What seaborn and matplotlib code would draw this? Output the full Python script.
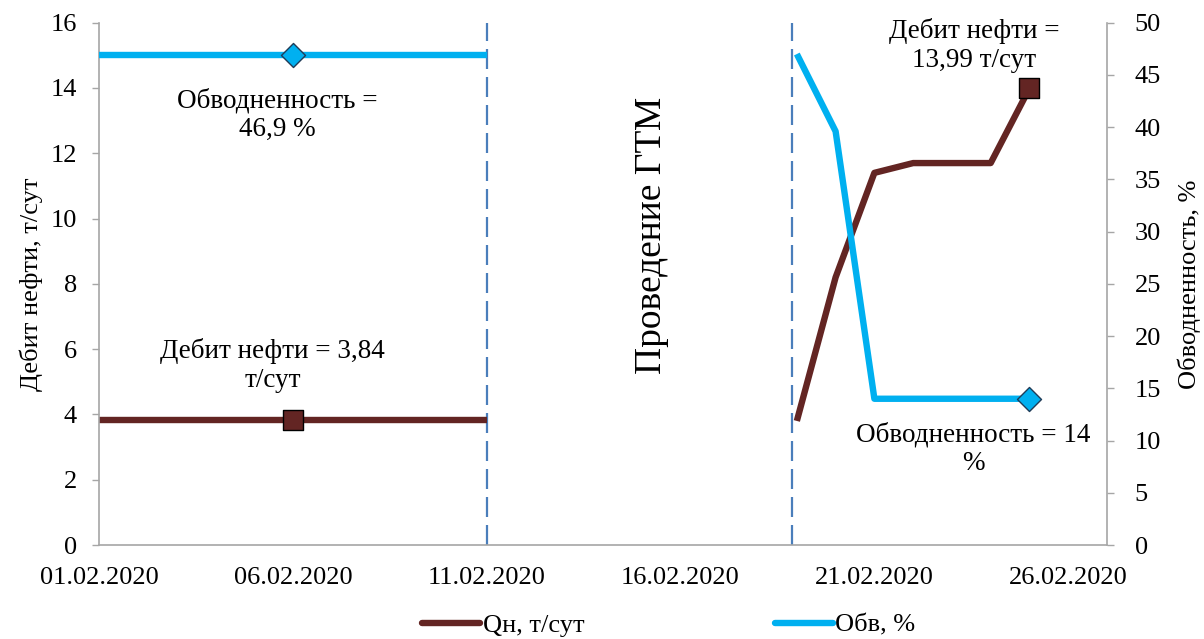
import numpy as np
import pandas as pd
import matplotlib
matplotlib.use("Agg")
import matplotlib.pyplot as plt
import matplotlib.dates as mdates
from matplotlib.lines import Line2D
import seaborn as sns

# Well data before and after the workover (ГТМ)
dates_before = ["01.02.2020", "06.02.2020", "11.02.2020"]
oil_before = [3.84, 3.84, 3.84]
wc_before = [46.9, 46.9, 46.9]

dates_after = ["19.02.2020", "20.02.2020", "21.02.2020", "22.02.2020",
               "23.02.2020", "24.02.2020", "25.02.2020"]
oil_after = [3.8, 8.2, 11.4, 11.7, 11.7, 11.7, 13.99]
wc_after = [47.0, 39.6, 14.0, 14.0, 14.0, 14.0, 14.0]

tick_dates = ["01.02.2020", "06.02.2020", "11.02.2020",
              "16.02.2020", "21.02.2020", "26.02.2020"]
x_start, x_end = "01.02.2020", "27.02.2020"
gtm_lines = ["11.02.2020", "19.02.2020"]

series_labels = ["Qн, т/сут", "Обв, %"]
oil_color = "#632523"
wc_color = "#00B0F0"
dash_color = "#4A7EBB"
spine_color = "#A6A6A6"

def to_dt(s):
    return pd.to_datetime(s, format="%d.%m.%Y")

df = pd.DataFrame({
    "date": to_dt(dates_before + dates_after),
    "oil": oil_before + oil_after,
    "wc": wc_before + wc_after,
    "segment": ["before"] * len(dates_before) + ["after"] * len(dates_after),
})

sns.set_theme(style="white")
plt.rcParams["font.family"] = ["Liberation Serif", "DejaVu Serif"]
plt.rcParams["font.size"] = 19
plt.rcParams["text.color"] = "black"
plt.rcParams["axes.labelcolor"] = "black"

fig = plt.figure(figsize=(12.04, 6.39), dpi=100)
ax = fig.add_axes([99 / 1204, 1 - 545 / 639, (1107 - 99) / 1204, (545 - 22.7) / 639])
ax2 = ax.twinx()

line_kw = dict(linewidth=4.6, solid_capstyle="butt", solid_joinstyle="round")

sns.lineplot(data=df, x="date", y="oil", units="segment", estimator=None,
             color=oil_color, ax=ax, legend=False, **line_kw)
sns.lineplot(data=df, x="date", y="wc", units="segment", estimator=None,
             color=wc_color, ax=ax2, legend=False, **line_kw)

# Marker points: middle of the base period and last day after the workover
mk = df.iloc[[1, len(df) - 1]]
sns.scatterplot(x=mk["date"], y=mk["oil"], marker="s", s=200, color=oil_color,
                edgecolor="black", linewidth=1.0, ax=ax, zorder=5, legend=False)
sns.scatterplot(x=mk["date"], y=mk["wc"], marker="D", s=150, color=wc_color,
                edgecolor="#1F3B57", linewidth=1.0, ax=ax2, zorder=5, legend=False)

ax.set_ylim(0, 16)
ax.set_yticks(np.arange(0, 17, 2))
ax2.set_ylim(0, 50)
ax2.set_yticks(np.arange(0, 51, 5))
ax.set_xlim(to_dt(x_start), to_dt(x_end))
ax.set_xticks(to_dt(tick_dates))
ax.xaxis.set_major_formatter(mdates.DateFormatter("%d.%m.%Y"))

for a in (ax, ax2):
    a.set_xlabel("")
    a.spines["top"].set_visible(False)
    for side in ("left", "right", "bottom"):
        a.spines[side].set_color(spine_color)
        a.spines[side].set_linewidth(1.2)
    a.tick_params(axis="both", which="major", direction="out", length=5,
                  width=1.0, color=spine_color, labelsize=19, labelcolor="black", pad=11)
    a.grid(False)
ax2.tick_params(axis="y", pad=15)

ax.spines["right"].set_visible(False)
ax2.spines["left"].set_visible(False)
ax2.spines["bottom"].set_visible(False)

ax.set_ylabel("Дебит нефти, т/сут", fontsize=19, labelpad=5)
ax2.set_ylabel("Обводненность, %", fontsize=19, rotation=90, labelpad=12)

# Workover period boundaries
for d in gtm_lines:
    x = to_dt(d)
    if d == gtm_lines[1]:
        x = x - pd.Timedelta(hours=3)
    ax.axvline(x, color=dash_color, linewidth=1.6, linestyle=(0, (9, 3.6)), zorder=1)

ax.text(to_dt("01.02.2020") + pd.Timedelta(days=14.25), 9.5, "Проведение ГТМ",
        rotation=90, ha="center", va="center", fontsize=27)

# Value labels next to markers
ann = dict(textcoords="offset pixels", ha="center", va="center", fontsize=19.5,
           linespacing=1.2)
ax2.annotate("Обводненность =\n46,9 %", xy=(mk["date"].iloc[0], mk["wc"].iloc[0]),
             xytext=(-16, -60), **ann)
ax.annotate("Дебит нефти = 3,84\nт/сут", xy=(mk["date"].iloc[0], mk["oil"].iloc[0]),
            xytext=(-20, 54), **ann)
ax.annotate("Дебит нефти =\n13,99 т/сут", xy=(mk["date"].iloc[1], mk["oil"].iloc[1]),
            xytext=(-55, 43), **ann)
ax2.annotate("Обводненность = 14\n%", xy=(mk["date"].iloc[1], mk["wc"].iloc[1]),
             xytext=(-56, -50), **ann)

handles = [Line2D([], [], color=oil_color, linewidth=4.6, solid_capstyle="round"),
           Line2D([], [], color=wc_color, linewidth=4.6, solid_capstyle="round")]
fig.legend(handles, series_labels, loc="center", bbox_to_anchor=(669 / 1204, 1 - 625 / 639),
           ncol=2, frameon=False, fontsize=19, handlelength=2.2, handletextpad=0.1,
           columnspacing=7.2)

fig.savefig("out.png", dpi=100)
